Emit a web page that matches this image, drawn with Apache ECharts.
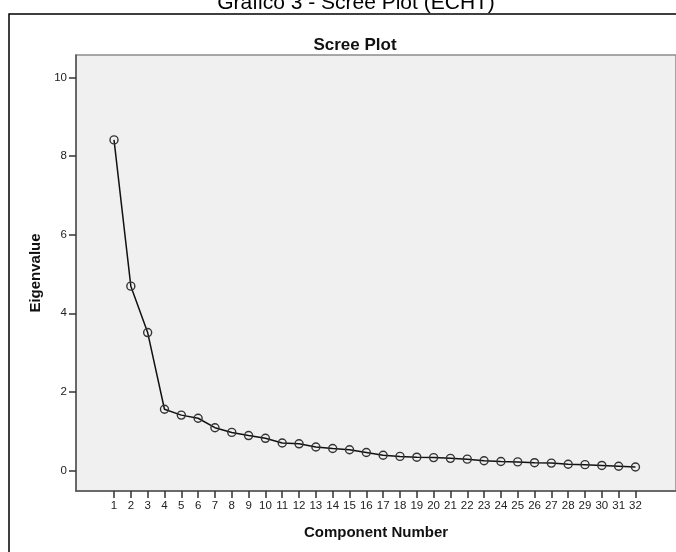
<!DOCTYPE html>
<html>
<head>
<meta charset="utf-8">
<title>Scree Plot</title>
<script src="https://cdn.jsdelivr.net/npm/echarts@6/dist/echarts.min.js"></script>
<style>
    html, body { margin: 0; padding: 0; background: #fff; }
    #scree-chart { width: 676px; height: 552px; }
</style>
</head>
<body>
<div id="scree-chart"></div>
<script>
//-----------------------------------------data-----------------------------------------
//component number
var components = [1, 2, 3, 4, 5, 6, 7, 8, 9, 10, 11, 12, 13, 14, 15, 16,
                  17, 18, 19, 20, 21, 22, 23, 24, 25, 26, 27, 28, 29, 30, 31, 32];
//eigenvalue
var eigenvalues = [8.41, 4.69, 3.51, 1.56, 1.41, 1.33, 1.09, 0.97, 0.89, 0.82, 0.70,
                   0.68, 0.60, 0.56, 0.53, 0.46, 0.39, 0.36, 0.34, 0.33, 0.31, 0.29,
                   0.25, 0.23, 0.22, 0.20, 0.19, 0.16, 0.15, 0.13, 0.11, 0.09];
//tick labels
var yTicks = [0, 2, 4, 6, 8, 10];
var xTicks = components;

//-----------------------------------------chart-----------------------------------------
function initScreeChart(){
    var chart = echarts.init(document.getElementById('scree-chart'), null, {renderer: 'canvas'});
    var font = 'Liberation Sans, Arial, sans-serif';
    var points = [];
    for(var i = 0; i < components.length; i++){
        points.push([components[i], eigenvalues[i]]);
    }
    var option = {
        backgroundColor: '#ffffff',
        animation: false,
        title: [{
            //cut off at the top, as in the original
            text: 'Gráfico 3 - Scree Plot (ECHT)',
            left: 351,
            top: -12,
            textAlign: 'center',
            textStyle: {
                fontFamily: font,
                fontSize: 21,
                fontWeight: 'normal',
                color: '#000'
            }
        }, {
            text: 'Scree Plot',
            left: 350,
            top: 32,
            textAlign: 'center',
            textStyle: {
                fontFamily: font,
                fontSize: 17,
                fontWeight: 'bold',
                color: '#111'
            }
        }],
        //outer frame
        graphic: [{
            type: 'rect',
            shape: { x: 9, y: 14, width: 720, height: 600 },
            style: { fill: 'none', stroke: '#000', lineWidth: 1.5 },
            silent: true
        }],
        grid: {
            left: 76,
            right: -5,
            top: 55,
            bottom: 61,
            show: true,
            backgroundColor: '#f0f0f0',
            borderColor: '#8c8c8c',
            borderWidth: 1.5
        },
        xAxis: {
            type: 'value',
            min: -1.26,
            max: 34.41,
            name: 'Component Number',
            nameLocation: 'middle',
            nameGap: 34,
            nameTextStyle: {
                fontFamily: font,
                fontSize: 15,
                fontWeight: 'bold',
                color: '#111'
            },
            splitLine: { show: false },
            axisLine: { show: true, onZero: false, lineStyle: { color: '#555', width: 1.5 } },
            axisTick: {
                show: true,
                length: 7,
                customValues: xTicks,
                lineStyle: { color: '#333', width: 1.5 }
            },
            axisLabel: {
                customValues: xTicks,
                margin: 9,
                fontFamily: font,
                fontSize: 11.5,
                color: '#222'
            }
        },
        yAxis: {
            type: 'value',
            min: -0.52,
            max: 10.57,
            name: 'Eigenvalue',
            nameLocation: 'middle',
            nameGap: 31,
            nameTextStyle: {
                fontFamily: font,
                fontSize: 15,
                fontWeight: 'bold',
                color: '#111'
            },
            splitLine: { show: false },
            axisLine: { show: true, onZero: false, lineStyle: { color: '#555', width: 1.5 } },
            axisTick: {
                show: true,
                length: 7,
                customValues: yTicks,
                lineStyle: { color: '#333', width: 1.5 }
            },
            axisLabel: {
                customValues: yTicks,
                margin: 9,
                fontFamily: font,
                fontSize: 11.5,
                color: '#222'
            }
        },
        series: [{
            name: 'Eigenvalue',
            type: 'line',
            data: points,
            symbol: 'circle',
            symbolSize: 8,
            showAllSymbol: true,
            itemStyle: {
                color: 'rgba(0,0,0,0)',
                borderColor: '#333',
                borderWidth: 1.4
            },
            lineStyle: {
                color: '#111',
                width: 1.5
            }
        }]
    };
    chart.setOption(option);
}

initScreeChart();
</script>
</body>
</html>
